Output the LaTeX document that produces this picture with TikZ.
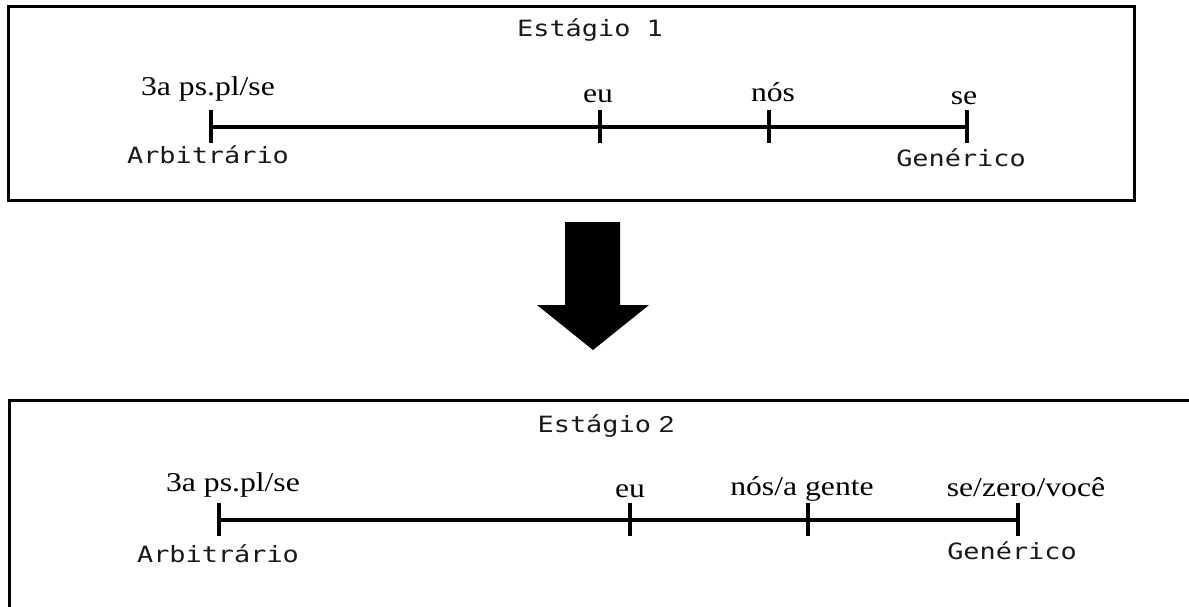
\documentclass[tikz,border=0pt]{standalone}
\usepackage{fontspec}
\setmainfont{Liberation Serif}
\setmonofont{DejaVu Sans Mono}
\newfontfamily\twofont{Liberation Sans}
\newcommand\wideserif[1]{\scalebox{1.2}[1.03]{#1}}
\newcommand\widemono[1]{\scalebox{1.2}[1]{#1}}
\begin{document}
\begin{tikzpicture}[x=1pt,y=-1pt,
  frame/.style={draw, line width=3pt},
  axis/.style={line width=3.3pt},
  tick/.style={line width=3.3pt},
  mono/.style={font=\fontsize{22.4}{24}\selectfont\ttfamily, inner sep=0pt, anchor=base, text=black!90},
  lab/.style={font=\fontsize{26.4}{28}\selectfont, inner sep=0pt, anchor=base}]
\useasboundingbox (0,0) rectangle (1189,607);
\clip (0,0) rectangle (1189,607);
% Stage 1 frame
\draw[frame] (8,7) rectangle (1134,200);
\node[mono] (t1) at (590,36.5) {\widemono{Estágio 1}};
% timeline 1
\coordinate (a1) at (211,127);
\coordinate (b1) at (600,127);
\coordinate (c1) at (769,127);
\coordinate (d1) at (967,127);
\draw[axis] (a1) -- (d1);
\foreach \p in {a1,b1,c1,d1} \draw[tick] ([yshift=-16pt]\p) -- ([yshift=17pt]\p);
\node[lab] (l1a) at (208,96) {\wideserif{3a ps.pl/se}};
\node[lab] (l1b) at (598,103) {\wideserif{eu}};
\node[lab] (l1c) at (773,102) {\wideserif{nós}};
\node[lab] (l1d) at (964,105) {\wideserif{se}};
\node[mono] (m1a) at (208,164) {\widemono{Arbitrário}};
\node[mono] (m1d) at (961,167) {\widemono{Genérico}};
% arrow
\fill (565,222) -- (620,222) -- (620,305) -- (649,305) -- (593,350) -- (537,305) -- (565,305) -- cycle;
% Stage 2 frame (open at right and bottom)
\draw[frame] (1200,400) -- (9,400) -- (9,620);
\node[mono] (t2) at (606,432) {\widemono{Estágio}\hspace{8pt}{\twofont\fontsize{23}{26}\selectfont\scalebox{1.2}[1]{2}}};
\coordinate (a2) at (219,520);
\coordinate (b2) at (630,520);
\coordinate (c2) at (808,520);
\coordinate (d2) at (1018,520);
\draw[axis] (a2) -- (d2);
\foreach \p in {a2,b2,c2,d2} \draw[tick] ([yshift=-16pt]\p) -- ([yshift=17pt]\p);
\node[lab] (l2a) at (233,491) {\wideserif{3a ps.pl/se}};
\node[lab] (l2b) at (630,497) {\wideserif{eu}};
\node[lab] (l2c) at (802,495) {\wideserif{nós/a gente}};
\node[lab] (l2d) at (1026,496) {\wideserif{se/zero/você}};
\node[mono] (m2a) at (218,562) {\widemono{Arbitrário}};
\node[mono] (m2d) at (1012,559) {\widemono{Genérico}};
\end{tikzpicture}
\end{document}
